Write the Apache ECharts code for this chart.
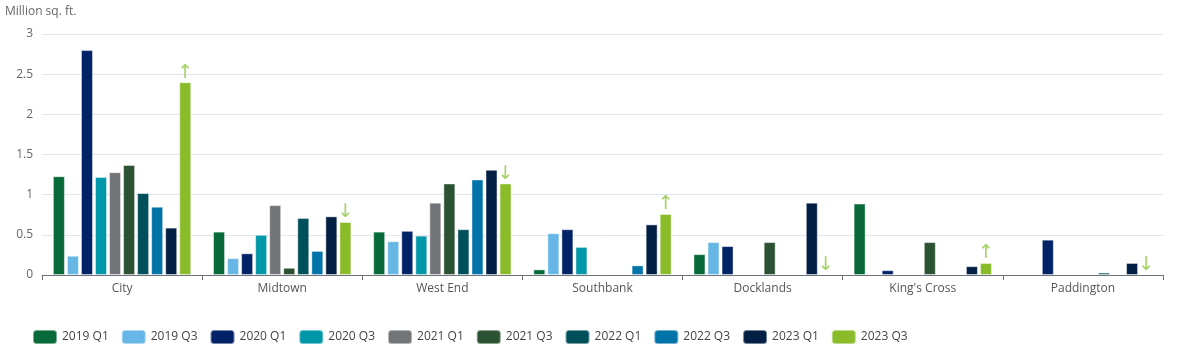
<!DOCTYPE html>
<html>
<head>
<meta charset="utf-8">
<script src="https://cdn.jsdelivr.net/npm/echarts@6/dist/echarts.min.js"></script>
<style>
  html, body { margin: 0; padding: 0; background: #fff; }
  #chart { width: 1179px; height: 353px; }
</style>
</head>
<body>
<div id="chart"></div>
<script>
// areas on the x axis
const categories = ['City', 'Midtown', 'West End', 'Southbank', 'Docklands', "King's Cross", 'Paddington'];
const periods = ['2019 Q1', '2019 Q3', '2020 Q1', '2020 Q3', '2021 Q1', '2021 Q3', '2022 Q1', '2022 Q3', '2023 Q1', '2023 Q3'];
const yTicks = [0, 0.5, 1, 1.5, 2, 2.5, 3];

// one array per period, values in million sq. ft.
const v2019Q1 = [1.23, 0.54, 0.54, 0.07, 0.26, 0.89, 0];
const v2019Q3 = [0.24, 0.21, 0.42, 0.52, 0.41, 0, 0];
const v2020Q1 = [2.80, 0.27, 0.55, 0.57, 0.36, 0.06, 0.44];
const v2020Q3 = [1.22, 0.50, 0.49, 0.35, 0, 0, 0];
const v2021Q1 = [1.28, 0.87, 0.90, 0, 0, 0, 0];
const v2021Q3 = [1.37, 0.09, 1.14, 0, 0.41, 0.41, 0];
const v2022Q1 = [1.02, 0.71, 0.57, 0, 0, 0, 0.03];
const v2022Q3 = [0.85, 0.30, 1.19, 0.12, 0, 0, 0];
const v2023Q1 = [0.59, 0.73, 1.31, 0.63, 0.90, 0.11, 0.15];
const v2023Q3 = [2.40, 0.66, 1.14, 0.76, 0, 0.15, 0];
// trend arrows shown above the latest bar
const trend = ['↑', '↓', '↓', '↑', '↓', '↑', '↓'];

const allData = [v2019Q1, v2019Q3, v2020Q1, v2020Q3, v2021Q1, v2021Q3, v2022Q1, v2022Q3, v2023Q1, v2023Q3];
const colors = ['#076a38', '#67b7e6', '#002266', '#0098a9', '#727578', '#2c5234', '#00505b', '#0073a8', '#031f43', '#89bc28'];

const chart = echarts.init(document.getElementById('chart'));

const series = periods.map((p, i) => {
  const last = i === periods.length - 1;
  const s = {
    name: p,
    type: 'bar',
    barWidth: 12,
    barGap: '17%',
    itemStyle: {
      color: colors[i],
      borderColor: 'rgba(255,255,255,0.45)',
      borderWidth: 1
    },
    // zero = no bar; the latest period keeps zero so its arrow still shows
    data: allData[i].map(v => {
      if (v !== 0) return v;
      if (!last) return '-';
      return { value: 0, itemStyle: { borderWidth: 0, opacity: 0 } };
    })
  };
  if (last) {
    s.label = {
      show: true,
      position: 'top',
      distance: 0,
      color: '#a3d263',
      fontSize: 19,
      fontFamily: 'DejaVu Sans',
      opacity: 1,
      formatter: (d) => trend[d.dataIndex]
    };
  }
  return s;
});

chart.setOption({
  animation: false,
  color: colors,
  textStyle: { fontFamily: 'Open Sans, sans-serif' },
  grid: { left: 42, right: 16, top: 34, bottom: 78 },
  legend: {
    data: periods,
    left: 27,
    top: 324,
    icon: 'roundRect',
    itemWidth: 24,
    itemHeight: 14,
    itemGap: 12,
    textStyle: { color: '#444', fontSize: 12 }
  },
  xAxis: {
    type: 'category',
    data: categories,
    axisLine: { lineStyle: { color: '#6e7079' } },
    axisTick: { show: true, length: 5, lineStyle: { color: '#6e7079' } },
    axisLabel: { color: '#555', fontSize: 12, margin: 8 }
  },
  yAxis: {
    type: 'value',
    min: yTicks[0],
    max: yTicks[yTicks.length - 1],
    interval: 0.5,
    name: 'Million sq. ft.',
    nameGap: 16,
    nameTextStyle: { color: '#666', fontSize: 12, align: 'left', padding: [0, 0, 0, -37] },
    axisLine: { show: false },
    axisTick: { show: false },
    axisLabel: { color: '#666', fontSize: 12, margin: 9 },
    splitLine: { lineStyle: { color: '#e3e5ec' } }
  },
  series: series
});
</script>
</body>
</html>
